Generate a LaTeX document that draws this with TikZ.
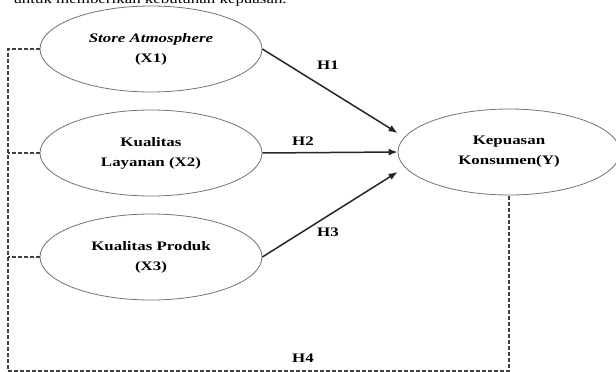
\documentclass[tikz,border=0pt]{standalone}
\usepackage{fontspec}
\setmainfont{Liberation Serif}[FakeStretch=1.3]
\usetikzlibrary{shapes.geometric,arrows.meta,positioning}

\begin{document}
\begin{tikzpicture}[
    x=1pt, y=-1pt,
    node distance=104pt,
    latent/.style={ellipse, draw=black!55, line width=0.8pt, fill=white, minimum width=222pt, minimum height=86pt, inner sep=0pt, align=center, font=\fontsize{13}{20}\selectfont\bfseries},
    path/.style={-{Latex[length=9pt,width=7pt]}, line width=1.5pt, draw=black!85},
    link/.style={dash pattern=on 4pt off 2pt, line width=1.2pt, draw=black!75},
    hyp/.style={font=\fontsize{13}{15}\selectfont\bfseries}
]
    \useasboundingbox (0,0) rectangle (616,372);
    \node[anchor=base west, font=\fontsize{13}{15}\selectfont] (prev) at (10,3) {untuk memberikan kebutuhan kepuasan.};

    \node[latent] (x1) at (151,49) {\textit{Store Atmosphere}\\(X1)};
    \node[latent] (x2) [below of=x1] {Kualitas\\Layanan (X2)};
    \node[latent] (x3) [below of=x2] {Kualitas Produk\\(X3)};
    \node[latent] (y) at (509,152) {Kepuasan\\Konsumen(Y)};
    \coordinate (corner) at (8,371);

    \draw[path] (x1.east) -- ([yshift=19pt]y.west);
    \draw[path] (x2.east) -- (y.west);
    \draw[path] (x3.east) -- ([yshift=-20pt]y.west);

    \draw[link] (x1.west) -| (corner) -| (y.south);
    \draw[link] (x2.west) -- (x2.west -| corner);
    \draw[link] (x3.west) -- (x3.west -| corner);

    \node[hyp] (h1) at (328,65) {H1};
    \node[hyp] (h2) at (303,141) {H2};
    \node[hyp] (h3) at (328,232) {H3};
    \node[hyp] (h4) at (303,358) {H4};
\end{tikzpicture}
\end{document}
